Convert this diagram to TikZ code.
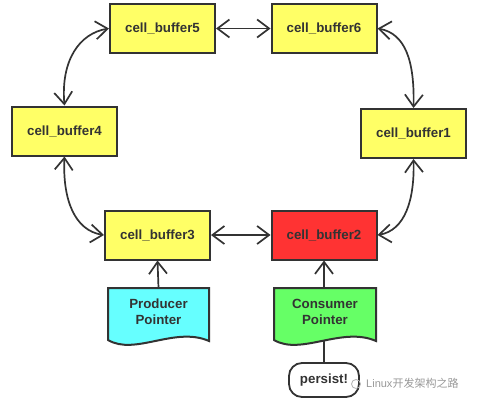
\documentclass[tikz,border=0pt]{standalone}
\usepackage{fontspec}
\setmainfont{Liberation Sans}
\newfontfamily\cjkfont{Noto Sans CJK SC}
\usetikzlibrary{arrows.meta,bending}
\definecolor{ink}{HTML}{333333}
\definecolor{bufyellow}{HTML}{FFFF66}
\definecolor{bufred}{HTML}{FF3333}
\definecolor{ptrcyan}{HTML}{66FFFF}
\definecolor{ptrgreen}{HTML}{66FF66}
\tikzset{
  buf/.style={draw=ink, line width=2pt, fill=bufyellow, minimum width=105pt, minimum height=49pt, inner sep=0pt,
    text=ink, font=\fontsize{13.3}{15}\selectfont\bfseries},
  docshape/.style={draw=ink, line width=2pt},
  doctext/.style={text=ink, font=\fontsize{13.3}{16}\selectfont\bfseries, align=center, inner sep=0pt},
  link/.style={draw=ink, line width=1.7pt, {Straight Barb[length=12pt,width=18pt,line width=1.7pt]}-{Straight Barb[length=12pt,width=18pt,line width=1.7pt]}},
  uplink/.style={draw=ink, line width=1.7pt, -{Straight Barb[length=12pt,width=18pt,line width=1.7pt]}},
  plain/.style={draw=ink, line width=1.7pt},
}
\begin{document}
\begin{tikzpicture}[x=1pt,y=-1pt]
\useasboundingbox[fill=white] (0,0) rectangle (478,404);
% buffers
\node[buf] (b5) at (162.5,28.5) {cell\_buffer5};
\node[buf] (b6) at (324,28.5) {cell\_buffer6};
\node[buf] (b4) at (64.5,131) {cell\_buffer4};
\node[buf] (b1) at (413.5,133.5) {cell\_buffer1};
\node[buf] (b3) at (157.5,235) {cell\_buffer3};
\node[buf, fill=bufred] (b2) at (324,235) {cell\_buffer2};
% document shapes
\path[docshape, fill=ptrcyan] (108,288) -- (209,288) -- (209,341)
  .. controls (175,326) and (135,356) .. (108,340) -- cycle;
\path[docshape, fill=ptrgreen] (274,288) -- (376,288) -- (376,341)
  .. controls (342,326) and (301,356) .. (274,340) -- cycle;
\node[doctext] (prod) at (158.5,312) {Producer\\Pointer};
\node[doctext] (cons) at (325,312) {Consumer\\Pointer};
\coordinate (prodtop) at (158.5,288);
\coordinate (constop) at (324,288);
\coordinate (consbot) at (324,341);
% persist
\node[draw=ink, line width=1.8pt, fill=white, rounded corners=13pt, minimum width=70pt, minimum height=34pt,
  inner sep=0pt, text=ink, font=\fontsize{13.3}{15}\selectfont\bfseries] (persist) at (324,380) {persist!};
% connectors
\draw[link] (b5.east) -- (b6.west);
\draw[link] (b3.east) -- (b2.west);
\draw[link] (b4.north) .. controls (60,60) and (80,32) .. (b5.west);
\draw[link] (b6.east) .. controls (405,32) and (415,60) .. (b1.north);
\draw[link] (b4.south) .. controls (62,200) and (75,232) .. (b3.west);
\draw[link] (b1.south) .. controls (415,200) and (405,232) .. (b2.east);
\draw[uplink] (prodtop) -- (b3.south);
\draw[uplink] (constop) -- (b2.south);
\draw[plain] (consbot) -- (persist.north);
% watermark
\node[draw=gray!60, line width=0.8pt, circle, minimum size=9pt, inner sep=0pt] (wmicon) at (356,384) {};
\node[anchor=west, text=gray!80, inner sep=0pt, font=\fontsize{11}{13}\selectfont] (wm) at (366,383) {Linux\cjkfont 开发架构之路};
\end{tikzpicture}
\end{document}
